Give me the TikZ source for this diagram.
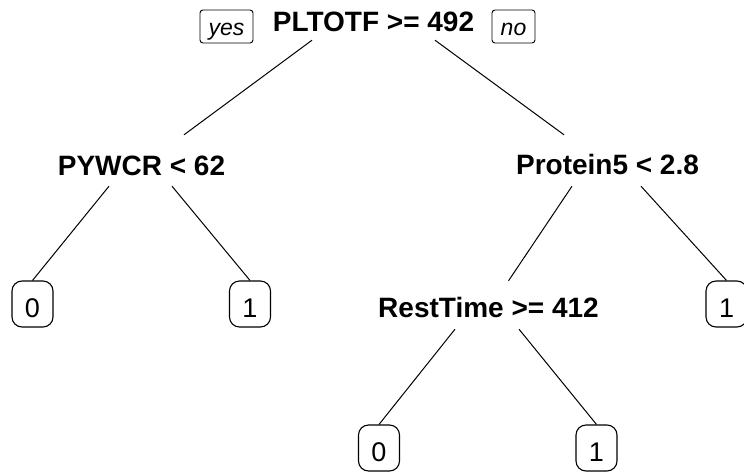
\documentclass[tikz,border=0pt]{standalone}
\usepackage{fontspec}
\setmainfont{Liberation Sans}
\usepackage{tikz}

\begin{document}
\begin{tikzpicture}[x=1pt, y=-1pt,
	cond/.style={font=\fontsize{28}{31}\selectfont\bfseries, text height=19pt, text depth=0pt, inner sep=0pt},
	leaf/.style={draw=black, line width=1.1pt, rounded corners=10pt, minimum width=41pt, minimum height=46pt, inner sep=0pt, text height=27pt, text depth=0pt, font=\fontsize{27}{30}\selectfont},
	dir/.style={draw=black, line width=0.9pt, rounded corners=3pt, inner xsep=0pt, inner ysep=3pt, text height=22pt, text depth=5pt, anchor=base, font=\fontsize{23}{26}\selectfont\itshape},
	branch/.style={line width=1pt}]
	
	\useasboundingbox (0, 0) rectangle (744, 474);
	
	\node[cond] (plt) at (373.5, 21.5)     {PLTOTF >= 492};
	\node[dir, minimum width=53pt] (yes) at (226.5, 35)     {yes};
	\node[dir, minimum width=43pt] (no) at (513.5, 35)     {no};
	
	\node[cond] (pywcr) at (141.5, 165.5)     {PYWCR < 62};
	\node[cond] (prot) at (607.5, 165)     {Protein5 < 2.8};
	\node[cond] (rest) at (488.5, 308)     {RestTime >= 412};
	
	\node[leaf] (l0a) at (32.5, 304)     {0};
	\node[leaf] (l1a) at (250, 304)     {1};
	\node[leaf] (l1b) at (726.5, 304)     {1};
	\node[leaf] (l0c) at (379, 448)     {0};
	\node[leaf] (l1c) at (596.5, 448)     {1};
	
	
	\path[-, branch] ([shift={(-61.5, 9)}]plt.south) edge ([shift={(42.5, -21)}]pywcr.north);
	\path[-, branch] ([shift={(61.5, 9)}]plt.south) edge ([shift={(-43.5, -20.5)}]prot.north);
	\path[-, branch] ([shift={(-32.5, 11)}]pywcr.south) edge (l0a.north);
	\path[-, branch] ([shift={(30.5, 11)}]pywcr.south) edge (l1a.north);
	\path[-, branch] ([shift={(-35.5, 11.5)}]prot.south) edge ([shift={(20, -17.5)}]rest.north);
	\path[-, branch] ([shift={(33.5, 11.5)}]prot.south) edge (l1b.north);
	\path[-, branch] ([shift={(-33.5, 11.5)}]rest.south) edge (l0c.north);
	\path[-, branch] ([shift={(30.5, 11.5)}]rest.south) edge (l1c.north);

	\end{tikzpicture}
\end{document}
